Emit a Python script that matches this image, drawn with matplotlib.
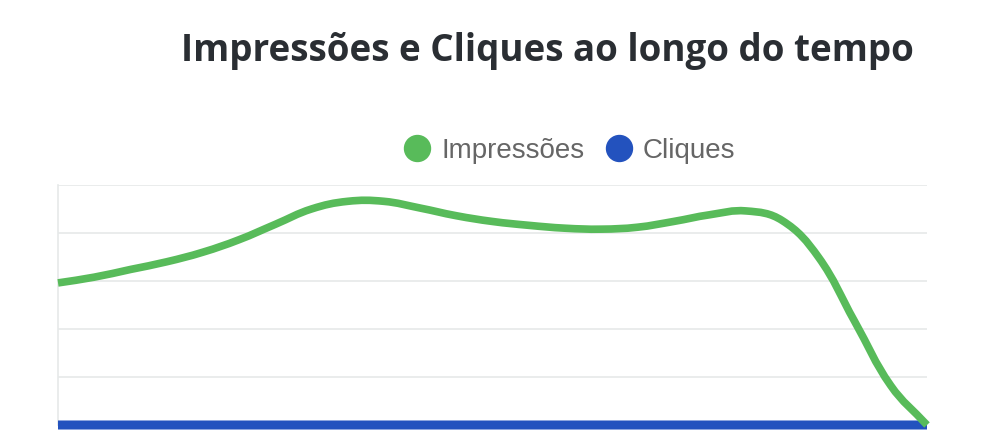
import numpy as np
import matplotlib
matplotlib.use('Agg')
import matplotlib.pyplot as plt
from matplotlib.path import Path
from matplotlib.patches import PathPatch
from matplotlib.lines import Line2D

# Data (25 daily points, no x labels shown)
dias = list(range(25))
impressoes = [148, 154, 162, 170, 180, 193, 209, 225, 233, 233, 226, 218, 212,
              208, 205, 204, 206, 212, 219, 223, 213, 175, 108, 41, 0]
cliques = [0] * 25

titulo = 'Impressões e Cliques ao longo do tempo'
legenda = ['Impressões', 'Cliques']
cor_verde = '#58bb5a'
cor_azul = '#2352be'


def curva_suave(ax, xs, ys, tension=0.4):
    # Chart.js-style bezier spline, computed in pixel space
    pts = ax.transData.transform(np.column_stack([xs, ys]))
    n = len(pts)
    cps = []
    for i in range(n):
        p1 = pts[i]
        p0 = pts[i - 1] if i > 0 else p1
        p2 = pts[i + 1] if i < n - 1 else p1
        d01 = np.hypot(*(p1 - p0))
        d12 = np.hypot(*(p2 - p1))
        tot = d01 + d12
        s01 = d01 / tot if tot else 0
        s12 = d12 / tot if tot else 0
        cps.append((p1 - tension * s01 * (p2 - p0), p1 + tension * s12 * (p2 - p0)))
    verts = [pts[0]]
    codes = [Path.MOVETO]
    for i in range(1, n):
        verts += [cps[i - 1][1], cps[i][0], pts[i]]
        codes += [Path.CURVE4] * 3
    verts = ax.transData.inverted().transform(np.array(verts))
    return Path(verts, codes)


fig = plt.figure(figsize=(9.92, 4.44), dpi=100)
ax = fig.add_axes([58 / 992, 1 - 425 / 444, 869 / 992, 240 / 444])
ax.set_xlim(dias[0], dias[-1])
ax.set_ylim(0, 250)
ax.set_yticks(np.arange(0, 251, 50))
ax.set_xticks([])
ax.tick_params(left=False, labelleft=False, bottom=False, labelbottom=False)
ax.grid(axis='y', color='#e6e9e9', linewidth=1.2)
ax.set_axisbelow(True)
for s in ['top', 'right', 'bottom']:
    ax.spines[s].set_visible(False)
ax.spines['left'].set_color('#e6e9e9')
ax.spines['left'].set_linewidth(1.2)

fig.canvas.draw()
ax.add_patch(PathPatch(curva_suave(ax, dias, cliques), facecolor='none',
                       edgecolor=cor_azul, linewidth=6.5, clip_on=False,
                       capstyle='butt', zorder=3))
ax.add_patch(PathPatch(curva_suave(ax, dias, impressoes), facecolor='none',
                       edgecolor=cor_verde, linewidth=5.5, clip_on=False,
                       capstyle='butt', joinstyle='round', zorder=4))

fig.text(547 / 992, 1 - 61 / 444, titulo, ha='center', va='baseline',
         fontsize=26.5, fontweight='bold', color='#2a2e33', family='Open Sans')

handles = [Line2D([], [], marker='o', linestyle='none', markersize=18.7,
                  markerfacecolor=c, markeredgecolor=c)
           for c in [cor_verde, cor_azul]]
fig.legend(handles, legenda, loc='center', bbox_to_anchor=(570 / 992, 1 - 151 / 444),
           ncol=2, frameon=False, handletextpad=0.4, columnspacing=0.76,
           handlelength=0.94, prop={'family': 'Liberation Sans', 'size': 20},
           labelcolor='#666666')

fig.savefig('out.png', dpi=100)
